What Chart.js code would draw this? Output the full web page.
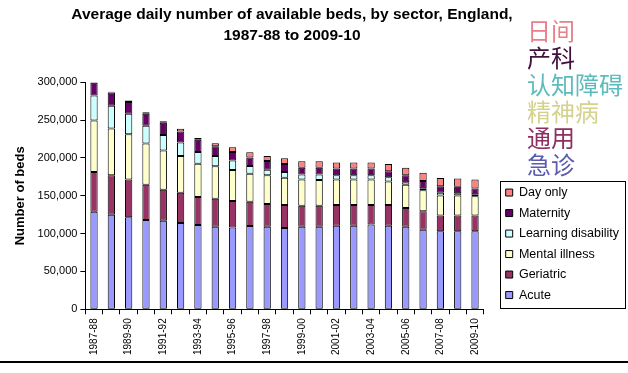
<!DOCTYPE html>
<html>
<head>
<meta charset="utf-8">
<script src="https://cdn.jsdelivr.net/npm/chart.js@4.4.1/dist/chart.umd.min.js"></script>
<style>
	html, body { margin: 0; padding: 0; background: #fff; }
	#chart { display: block; }
</style>
</head>
<body>
<canvas id="chart" width="628" height="373"></canvas>
<script>
const years = ['1987-88', '1988-89', '1989-90', '1990-91', '1991-92', '1992-93', '1993-94', '1994-95',
	'1995-96', '1996-97', '1997-98', '1998-99', '1999-00', '2000-01', '2001-02', '2002-03', '2003-04',
	'2004-05', '2005-06', '2006-07', '2007-08', '2008-09', '2009-10'];

const acute = [129000, 125000, 121500, 118000, 117000, 114000, 111500, 109000, 108000, 110000, 109000, 107500,
	109000, 109000, 110500, 110500, 112000, 110500, 109000, 105000, 103000, 103000, 103000];
const geriatric = [52500, 52000, 50000, 46500, 41000, 40000, 37000, 37000, 35000, 32000, 30000, 30500,
	28000, 28000, 27500, 27500, 26000, 27500, 25000, 24500, 21000, 21000, 21000];
const mentalIllness = [68000, 62000, 60000, 54500, 52000, 48500, 44000, 43000, 41000, 37000, 38000, 36000,
	34500, 34000, 33500, 33500, 33500, 31000, 30500, 28000, 26500, 26500, 25500];
const learningDisability = [33000, 30000, 27000, 23500, 20500, 18000, 15500, 13500, 12500, 10500, 7500, 7500,
	6500, 7000, 5500, 5500, 5500, 5500, 3500, 2500, 3500, 3000, 2500];
const maternity = [17000, 17500, 15500, 16000, 16000, 14500, 16000, 13000, 11500, 11000, 11500, 10500,
	9000, 9000, 9000, 9000, 9000, 8000, 9000, 9500, 8500, 8500, 7500];
const dayOnly = [500, 1000, 2000, 2000, 2000, 3500, 2500, 4000, 6000, 7000, 6500, 7500,
	8500, 8500, 8000, 8000, 8000, 9500, 10000, 11000, 11000, 11000, 12000];

const yTicks = { min: 0, max: 300000, step: 50000 };

const chartTitle = ['Average daily number of available beds, by sector, England,', '1987-88 to 2009-10'];
const sideNotes = ['日间', '产科', '认知障碍', '精神病', '通用', '急诊'];
const sideNoteColors = ['#e8808c', '#40103c', '#5cbcbc', '#d4d28c', '#8e2e62', '#5a5aae'];

const FONT = '"Liberation Sans", Arial, sans-serif';
Chart.defaults.font.family = FONT;
Chart.defaults.color = '#000';

const makeSet = (label, data, color) => ({
	label,
	data,
	backgroundColor: color,
	borderColor: '#000',
	borderWidth: 1,
	borderSkipped: false,
	categoryPercentage: 1,
	barPercentage: 0.42
});

const decorations = {
	id: 'decorations',
	afterLayout(chart) {
		const area = chart.chartArea;
		const legend = chart.legend;
		legend.left = area.right + 14;
		legend.right = legend.left + legend.width;
		// centre the title a little right of the plot, with room for the long first line
		const title = chart.titleBlock;
		title.left = 42;
		title.right = 542;
	},
	afterDraw(chart) {
		const ctx = chart.ctx;
		const legend = chart.legend;
		ctx.save();
		// legend frame
		const firstTop = legend.bottom - legend.columnSizes[0].height;
		const x = legend.left + 2;
		const y = firstTop - 5;
		ctx.strokeStyle = '#000';
		ctx.lineWidth = 1;
		ctx.strokeRect(Math.round(x) + 0.5, Math.round(y) + 0.5, chart.width - 3 - Math.round(x), Math.round(legend.bottom - 1 - y));
		// coloured notes above the legend
		ctx.font = '24px "Noto Sans CJK SC"';
		ctx.textBaseline = 'middle';
		ctx.textAlign = 'left';
		sideNotes.forEach((txt, i) => {
			ctx.fillStyle = sideNoteColors[i];
			ctx.fillText(txt, 527, 31 + i * 26.8);
		});
		// bottom rule
		ctx.fillStyle = '#000';
		ctx.fillRect(0, 361, chart.width, 2);
		ctx.restore();
	}
};

new Chart(document.getElementById('chart'), {
	type: 'bar',
	data: {
		labels: years,
		datasets: [
			makeSet('Acute', acute, '#9999ff'),
			makeSet('Geriatric', geriatric, '#993366'),
			makeSet('Mental illness', mentalIllness, '#ffffcc'),
			makeSet('Learning disability', learningDisability, '#ccffff'),
			makeSet('Maternity', maternity, '#660066'),
			makeSet('Day only', dayOnly, '#ff8080')
		]
	},
	options: {
		responsive: false,
		animation: false,
		devicePixelRatio: 1,
		locale: 'en-US',
		layout: {
			padding: { top: 5, left: 13, right: 13, bottom: 14 }
		},
		plugins: {
			tooltip: { enabled: false },
			title: {
				display: true,
				text: chartTitle,
				fullSize: false,
				color: '#000',
				font: { size: 15.5, weight: 'bold', lineHeight: 1.3 },
				padding: { top: 0, bottom: 37 }
			},
			legend: {
				position: 'right',
				fullSize: false,
				align: 'end',
				reverse: true,
				labels: {
					boxWidth: 7,
					boxHeight: 7,
					padding: 8,
					color: '#000',
					font: { size: 12.5 }
				}
			}
		},
		scales: {
			x: {
				stacked: true,
				grid: {
					display: true,
					drawOnChartArea: false,
					drawTicks: true,
					tickLength: 5,
					color: '#000'
				},
				border: { display: true, color: '#000', width: 1 },
				ticks: {
					autoSkip: false,
					minRotation: 90,
					maxRotation: 90,
					padding: 4,
					color: '#000',
					font: { size: 10 },
					callback: (value, index) => index % 2 === 0 ? years[index] : ''
				}
			},
			y: {
				stacked: true,
				min: yTicks.min,
				max: yTicks.max,
				grid: {
					display: true,
					drawOnChartArea: false,
					drawTicks: true,
					tickLength: 5,
					color: '#000'
				},
				border: { display: true, color: '#000', width: 1 },
				ticks: {
					stepSize: yTicks.step,
					padding: 3,
					color: '#000',
					font: { size: 11 }
				},
				title: {
					display: true,
					text: 'Number of beds',
					color: '#000',
					font: { size: 13, weight: 'bold' },
					padding: { top: 0, bottom: 6 }
				}
			}
		}
	},
	plugins: [decorations]
});
</script>
</body>
</html>
